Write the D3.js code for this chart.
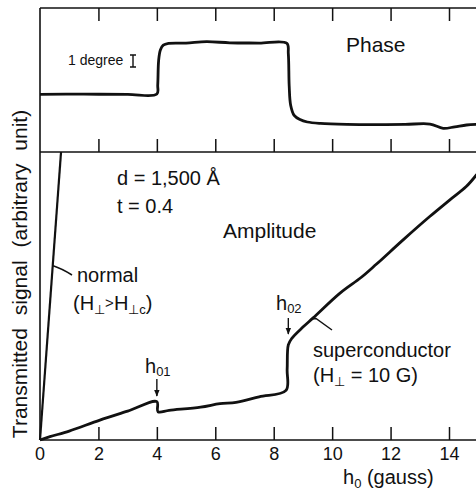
<!DOCTYPE html>
<html>
<head>
<meta charset="utf-8">
<script src="https://cdnjs.cloudflare.com/ajax/libs/d3/7.8.5/d3.min.js"></script>
<style>
  body { margin: 0; background: #fff; }
  svg { display: block; }
  text { font-family: "Liberation Sans", Arial, sans-serif; fill: #111; }
</style>
</head>
<body>
<svg id="chart"></svg>
<script>
// x axis ticks, h0 in gauss
const fieldTicks = [0, 2, 4, 6, 8, 10, 12, 14];
const fieldLabels = ["0", "2", "4", "6", "8", "10", "12", "14"];

// phase trace (degrees, arbitrary zero)
const phaseField = [0, 1.5, 3, 4.0, 4.03, 4.06, 4.12, 4.22, 4.4, 5, 5.7, 6.5, 7.5, 8.45,
                    8.5, 8.53, 8.58, 8.7, 8.9, 9.15, 9.6, 10.5, 11.5, 12.5, 13.35, 13.8,
                    14.2, 14.6, 14.95];
const phaseDeg   = [4.8, 4.82, 4.8, 4.83, 5.6, 7.6, 8.5, 8.9, 9.05, 9.08, 9.19, 9.1, 9.08, 9.06,
                    8.2, 5.5, 3.9, 3.05, 2.7, 2.5, 2.38, 2.3, 2.28, 2.3, 2.33, 1.97,
                    2.1, 2.25, 2.3];

// amplitude, superconductor (H = 10 G)
const scField = [0, 0.34, 1, 2.05, 3, 4.0, 4.04, 4.42, 5.5, 6.16, 6.71, 7.5, 8.42,
                 8.46, 8.5, 8.62, 9.0, 9.35, 10.27, 11.0, 11.51, 12.42, 13.33, 14.02,
                 14.59, 14.95];
const scAmp   = [0, 0.115, 0.31, 0.69, 1.0, 1.33, 0.98, 1.03, 1.14, 1.26, 1.31, 1.5, 1.72,
                 2.45, 3.3, 3.53, 3.92, 4.24, 5.1, 5.65, 6.1, 6.94, 7.75, 8.33,
                 8.8, 9.22];

// amplitude, normal state
const normalField = [0, 0.72];
const normalAmp   = [0, 10];

const width = 476, height = 490;
const svg = d3.select("#chart").attr("width", width).attr("height", height);

// panel frame
const frame = { left: 40, right: 476, top: 8, mid: 152, bottom: 440 };
const tickLen = 13;

const x = d3.scaleLinear().domain([0, 14]).range([40, 449]);
const yPhase = d3.scaleLinear().domain([0, 12]).range([frame.mid, frame.top]);
const yAmp = d3.scaleLinear().domain([0, 10]).range([frame.bottom, frame.mid]);

// arrow head
svg.append("defs").append("marker")
  .attr("id", "arrow")
  .attr("viewBox", "0 0 10 10")
  .attr("refX", 9).attr("refY", 5)
  .attr("markerWidth", 5).attr("markerHeight", 6)
  .attr("orient", "auto")
  .append("path")
  .attr("d", "M0,1 L10,5 L0,9 z")
  .attr("fill", "#111");

// frame lines
const borders = [
  [frame.left, frame.top, frame.right, frame.top],
  [frame.left, frame.mid, frame.right, frame.mid],
  [frame.left, frame.bottom, frame.right, frame.bottom],
  [frame.left, frame.top, frame.left, frame.bottom]
];
svg.selectAll(".border")
  .data(borders)
  .enter()
  .append("line")
  .attr("class", "border")
  .attr("x1", d => d[0]).attr("y1", d => d[1])
  .attr("x2", d => d[2]).attr("y2", d => d[3])
  .attr("stroke", "#111")
  .attr("stroke-width", 1.6);

// tick rows: top panel top edge, top panel bottom edge, bottom axis
function tickRow(axis, y, labels) {
  const g = svg.append("g")
    .attr("transform", `translate(0, ${y})`)
    .call(axis.tickValues(fieldTicks.slice(1))
      .tickSizeInner(-tickLen).tickSizeOuter(0)
      .tickPadding(7)
      .tickFormat(labels ? (d => fieldLabels[fieldTicks.indexOf(d)]) : ""));
  g.select(".domain").remove();
  g.selectAll(".tick line").attr("stroke", "#111").attr("stroke-width", 1.5);
  g.selectAll(".tick text")
    .attr("font-size", 18)
    .attr("font-family", "Liberation Sans, Arial, sans-serif")
    .attr("fill", "#111");
  return g;
}
tickRow(d3.axisTop(x), frame.top, false);
tickRow(d3.axisBottom(x), frame.mid, false);
const bottomAxis = tickRow(d3.axisBottom(x), frame.bottom, true);
// the 0 label sits under the left edge
bottomAxis.append("g")
  .attr("class", "tick")
  .attr("transform", `translate(${x(0)}, 0)`)
  .append("text")
  .attr("y", 7).attr("dy", "0.71em")
  .attr("text-anchor", "middle")
  .attr("font-size", 18)
  .text(fieldLabels[0]);

// curves
const smooth = d3.curveCatmullRom.alpha(0.5);

const phaseLine = d3.line()
  .x((d, i) => x(phaseField[i]))
  .y(d => yPhase(d))
  .curve(smooth);

const ampLine = d3.line()
  .x(d => x(d[0]))
  .y(d => yAmp(d[1]))
  .curve(smooth);

svg.append("path")
  .attr("class", "phase")
  .attr("d", phaseLine(phaseDeg))
  .attr("fill", "none")
  .attr("stroke", "#111")
  .attr("stroke-width", 2.8)
  .attr("stroke-linejoin", "round");

svg.append("path")
  .attr("class", "superconductor")
  .attr("d", ampLine(scField.map((h, i) => [h, scAmp[i]])))
  .attr("fill", "none")
  .attr("stroke", "#111")
  .attr("stroke-width", 2.8)
  .attr("stroke-linejoin", "round");

svg.append("path")
  .attr("class", "normal")
  .attr("d", ampLine(normalField.map((h, i) => [h, normalAmp[i]])))
  .attr("fill", "none")
  .attr("stroke", "#111")
  .attr("stroke-width", 2.2);

// 1 degree scale bar
const barX = 133;
svg.append("path")
  .attr("d", `M${barX - 3},${yPhase(8.08)} h6 M${barX},${yPhase(8.08)} V${yPhase(7.08)} M${barX - 3},${yPhase(7.08)} h6`)
  .attr("fill", "none")
  .attr("stroke", "#111")
  .attr("stroke-width", 1.4);

// helper for labels
function label(txt, px, py, size) {
  return svg.append("text")
    .attr("x", px).attr("y", py)
    .attr("font-size", size)
    .text(txt);
}

label("Phase", 346, 52, 21);
label("1 degree", 68, 65, 14);
label("d = 1,500 \u00C5", 117, 185, 20);
label("t = 0.4", 117, 213, 20);
label("Amplitude", 223, 238, 21);
label("normal", 77, 282, 20);

// (H⊥ > H⊥c)
const normalCond = label("(H", 73, 310, 20);
normalCond.append("tspan").attr("font-size", 13).attr("dy", 4).text("\u22A5");
normalCond.append("tspan").attr("font-size", 15).attr("dy", -6).text(">");
normalCond.append("tspan").attr("font-size", 20).attr("dy", 2).text("H");
normalCond.append("tspan").attr("font-size", 13).attr("dy", 4).text("\u22A5c");
normalCond.append("tspan").attr("font-size", 20).attr("dy", -4).text(")");

label("superconductor", 313, 357, 20);
const scCond = label("(H", 313, 382, 20);
scCond.append("tspan").attr("font-size", 13).attr("dy", 4).text("\u22A5");
scCond.append("tspan").attr("font-size", 20).attr("dy", -4).text(" = 10  G)");

// h01 and h02 markers
const h01 = label("h", 145, 373, 20);
h01.append("tspan").attr("font-size", 13).attr("dy", 3).text("01");
const h02 = label("h", 276, 310, 20);
h02.append("tspan").attr("font-size", 13).attr("dy", 3).text("02");

const arrows = [
  { h: 4.0, y1: 379, y2: 396 },
  { h: 8.5, y1: 318, y2: 334 }
];
svg.selectAll(".marker-arrow")
  .data(arrows)
  .enter()
  .append("line")
  .attr("class", "marker-arrow")
  .attr("x1", d => x(d.h)).attr("x2", d => x(d.h))
  .attr("y1", d => d.y1).attr("y2", d => d.y2)
  .attr("stroke", "#111")
  .attr("stroke-width", 1.4)
  .attr("marker-end", "url(#arrow)");

// leader lines
svg.append("path")
  .attr("d", `M${x(0.45)},${yAmp(6.05)} Q${x(0.75)},${yAmp(5.95)} 72,275`)
  .attr("fill", "none").attr("stroke", "#111").attr("stroke-width", 1.5);
svg.append("path")
  .attr("d", `M${x(9.3)},${yAmp(4.2)} L316,318.5 L332,330`)
  .attr("fill", "none").attr("stroke", "#111").attr("stroke-width", 1.5);

// axis titles
const xTitle = label("h", 343, 484, 20);
xTitle.append("tspan").attr("font-size", 13).attr("dy", 4).text("0");
xTitle.append("tspan").attr("dy", -4).text(" (gauss)");

svg.append("text")
  .attr("transform", "translate(27, 274) rotate(-90)")
  .attr("text-anchor", "middle")
  .attr("font-size", 21)
  .attr("word-spacing", 7)
  .text("Transmitted signal (arbitrary unit)");
</script>
</body>
</html>
